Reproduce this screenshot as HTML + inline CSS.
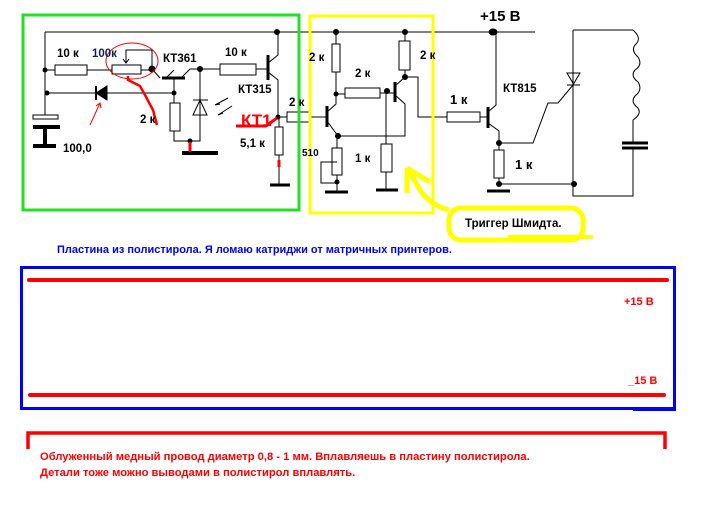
<!DOCTYPE html>
<html><head><meta charset="utf-8"><style>
html,body{margin:0;padding:0;background:#fff;width:703px;height:531px;overflow:hidden}
svg{display:block}
text{font-family:"Liberation Sans","DejaVu Sans",sans-serif;font-weight:bold}
</style></head><body>
<svg width="703" height="531" viewBox="0 0 703 531" xmlns="http://www.w3.org/2000/svg">
<g fill="none" stroke="#000" stroke-width="1">
<path d="M45 32H535"/>
<path d="M45 32V115"/>
<path d="M45 70H55M87 70H112M141 70H152"/>
<rect x="55" y="65" width="32" height="10"/>
<rect x="112" y="65" width="29" height="9"/>
<path d="M126 63V50H152V69"/>
<path d="M123 59L126 63L129 59"/>
<path d="M152 69L160 78"/>
<path d="M162 78H185" stroke-width="3"/>
<path d="M166 78L174 70M181 78L190 69H220"/>
<path d="M174 78V93"/>
<rect x="220" y="64" width="36" height="11"/>
<path d="M256 69H268"/>
<path d="M268 55V80" stroke-width="3"/>
<path d="M268 63L278 55V32M268 72L278 80V117"/>
<path d="M47 93H95M107 93H174"/>
<path d="M107 86V100L96 93Z" fill="#000"/>
<path d="M96 86V100" stroke-width="2"/>
<rect x="170" y="103" width="10" height="28"/>
<path d="M174 93V103M174 131V141H200V69"/>
<path d="M193 100H208M193 115L200 100L207 115Z"/>
<path d="M215 105L228 98M218 115L232 106M215 105L220 104M218 115L223 113"/>
<path d="M182 153H218" stroke-width="4"/>
<rect x="33" y="115" width="25" height="4"/>
<path d="M33 127H60" stroke-width="4"/>
<path d="M45 127V146M33 146H56" stroke-width="4"/>
<rect x="275" y="127" width="8" height="28"/>
<path d="M279 117V127M279 155V185"/>
<path d="M270 185H290" stroke-width="3"/>
<path d="M278 117H287"/>
<rect x="287" y="112" width="23" height="10"/>
<path d="M310 117H327"/>
<path d="M327 106V127" stroke-width="3"/>
<rect x="332" y="44" width="8" height="28"/>
<path d="M336 32V44M336 72V104L327 112M327 121L338 136H405V104L395 95M336 94H345"/>
<rect x="345" y="88" width="35" height="10"/>
<path d="M380 93H395"/>
<path d="M395 82V102" stroke-width="3"/>
<rect x="399" y="41" width="11" height="29"/>
<path d="M405 32V41M405 70V77L395 86M405 77H418V117H447"/>
<path d="M386 93V144M386 172V190"/>
<rect x="381" y="144" width="11" height="28"/>
<path d="M376 190H398" stroke-width="3"/>
<path d="M337 136V148"/>
<rect x="332" y="148" width="10" height="27"/>
<path d="M337 175V192M337 162H321V183H337"/>
<path d="M325 192H348" stroke-width="3"/>
<rect x="447" y="112" width="33" height="10"/>
<path d="M480 117H488"/>
<path d="M488 107V128" stroke-width="3"/>
<path d="M488 112L496 105V32M488 123L499 131V150"/>
<rect x="494" y="150" width="10" height="28"/>
<path d="M499 178V184H574"/>
<path d="M487 191H510" stroke-width="3"/>
<path d="M499 143H533L548 103H558L573 85"/>
<path d="M573 30H633M573 30V196H633V148M633 143V120"/>
<path d="M567 73H580L573.5 84Z M567 85H580"/>
<path d="M633 30Q642 38 636 44Q630 50 638 57Q643 65 635 70Q630 76 638 82Q643 90 635 96Q630 102 638 108Q642 114 633 120"/>
<path d="M622 143H648M622 148H648" stroke-width="3"/>
</g>
<g fill="#000">
<circle cx="45" cy="70" r="2.5"/><circle cx="47" cy="93" r="2.5"/>
<circle cx="152" cy="69" r="3.5"/><circle cx="200" cy="69" r="3"/>
<circle cx="174" cy="93" r="2.5"/><circle cx="190" cy="141" r="2.5"/>
<circle cx="277" cy="32" r="3"/><circle cx="278" cy="117" r="2.5"/>
<circle cx="336" cy="32" r="3"/><circle cx="405" cy="32" r="3"/><ellipse cx="493" cy="32" rx="4.5" ry="3.5"/>
<circle cx="336" cy="94" r="2.5"/><circle cx="387" cy="91" r="3"/><circle cx="405" cy="77" r="3"/>
<circle cx="338" cy="136" r="3"/><circle cx="337" cy="182" r="2.5"/>
<circle cx="499" cy="143" r="3"/><circle cx="499" cy="184" r="3"/><circle cx="574" cy="184" r="3"/>
</g>
<g fill="none" stroke="#f00">
<ellipse cx="132" cy="61" rx="26" ry="18" stroke-width="1"/>
<path d="M128 76V80L140 86L145 95L153 110L157 125" stroke-width="2.5"/>
<path d="M90 125L100 103M96 106L100 103L101 108" stroke-width="1"/>
<path d="M236 126H266L277 118" stroke-width="3"/>
<path d="M190 142V152M279 160V167" stroke-width="3"/>
</g>
<rect x="23" y="15" width="276" height="195" fill="none" stroke="#22e022" stroke-width="3"/>
<rect x="310" y="16" width="123" height="197" fill="none" stroke="#ff0" stroke-width="3"/>
<rect x="449" y="208" width="134" height="32" rx="12" fill="none" stroke="#ff0" stroke-width="5"/>
<path d="M449 210Q430 205 420 190Q413 178 409 170M407 168V193M407 168L430 182" fill="none" stroke="#ff0" stroke-width="5"/>
<path d="M508 237H593" stroke="#ff0" stroke-width="4"/>
<g font-size="11.5" fill="#000">
<text x="57" y="57">10 к</text>
<text x="92" y="57" fill="#102050">100к</text>
<text x="163" y="62">КТ361</text>
<text x="225" y="56">10 к</text>
<text x="238" y="93">КТ315</text>
<text x="140" y="123">2 к</text>
<text x="240" y="147">5,1 к</text>
<text x="63" y="152">100,0</text>
<text x="289" y="106">2 к</text>
<text x="309" y="61">2 к</text>
<text x="355" y="77">2 к</text>
<text x="420" y="59">2 к</text>
<text x="302" y="156" font-size="10">510</text>
<text x="355" y="162">1 к</text>
<text x="450" y="104" font-size="13">1 к</text>
<text x="503" y="92">КТ815</text>
<text x="515" y="169" font-size="13">1 к</text>
<text x="480" y="21" font-size="15">+15 В</text>
<text x="465" y="227" font-size="11.5">Триггер Шмидта.</text>
</g>
<text x="241" y="126" font-size="17" fill="#f00">КТ1</text>
<text x="57" y="253" font-size="11" fill="#00f">Пластина из полистирола. Я ломаю катриджи от матричных принтеров.</text>
<rect x="21.5" y="267.5" width="653" height="141" fill="none" stroke="#00f" stroke-width="3"/>
<path d="M508 268H571M633 410H676" stroke="#00f" stroke-width="2"/>
<path d="M29 280H667M30 395H664" stroke="#f00" stroke-width="4" stroke-linecap="round"/>
<text x="624" y="305" font-size="11" fill="#f00">+15 В</text>
<text x="628" y="384" font-size="11" fill="#f00">_15 В</text>
<path d="M28 449V433H665V449" fill="none" stroke="#f00" stroke-width="3.5"/>
<text x="40" y="460" font-size="11.2" fill="#f00">Облуженный медный провод диаметр 0,8 - 1 мм. Вплавляешь в пластину полистирола.</text>
<text x="40" y="476" font-size="11.2" fill="#f00">Детали тоже можно выводами в полистирол вплавлять.</text>
</svg>
</body></html>
